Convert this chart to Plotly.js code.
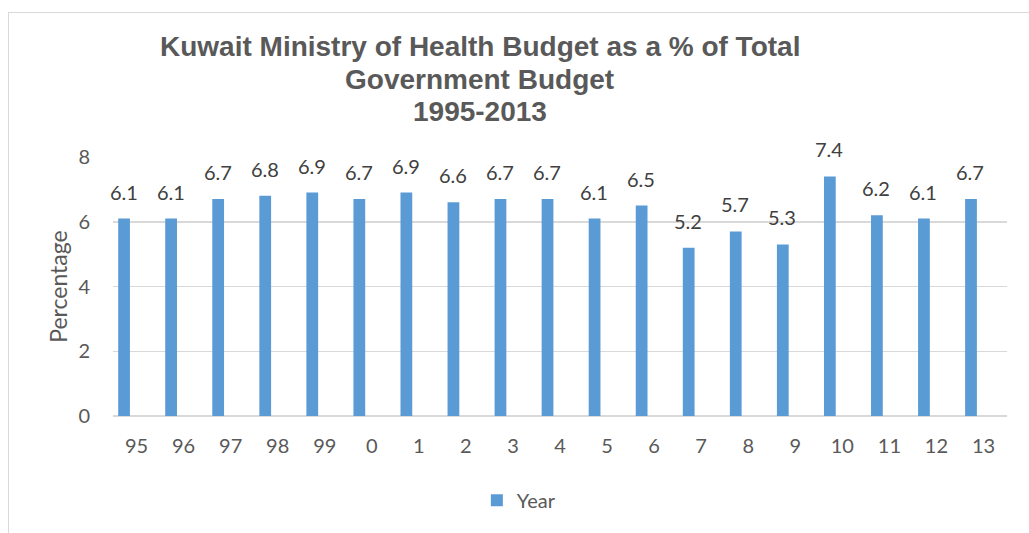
<!DOCTYPE html>
<html>
<head>
<meta charset="utf-8">
<script src="https://cdn.plot.ly/plotly-3.0.1.min.js"></script>
<style>
  html, body { margin: 0; padding: 0; background: #fff; }
  #wrap { position: relative; width: 1029px; height: 533px; overflow: hidden; }
  #frame { position: absolute; left: 8px; top: 12px; width: 1100px; height: 600px; border-left: 1.5px solid #D9D9D9; border-top: 1.5px solid #D9D9D9; pointer-events: none; }
  #chart { position: absolute; left: 0; top: 0; width: 1029px; height: 533px; }
</style>
</head>
<body>
<div id="wrap">
  <div id="chart"></div>
  <div id="frame"></div>
</div>
<script>
const categories = ['95','96','97','98','99','0','1','2','3','4','5','6','7','8','9','10','11','12','13'];
const values = [6.1, 6.1, 6.7, 6.8, 6.9, 6.7, 6.9, 6.6, 6.7, 6.7, 6.1, 6.5, 5.2, 5.7, 5.3, 7.4, 6.2, 6.1, 6.7];
const seriesName = 'Year';
const titleLines = ['Kuwait Ministry of Health Budget as a % of Total', 'Government Budget', '1995-2013'];
const yTitle = 'Percentage';

const positions = categories.map((c, i) => i);
const labelFont = { family: 'Lato, "Open Sans", sans-serif', size: 20, color: '#595959' };

const trace = {
  type: 'bar',
  x: positions,
  y: values,
  name: seriesName,
  width: 0.25,
  offset: -0.39,
  marker: { color: '#5B9BD5', line: { width: 0 } }
};

const annotations = positions.map((p, i) => ({
  x: p, y: values[i], xref: 'x', yref: 'y',
  text: values[i].toFixed(1),
  showarrow: false,
  xanchor: 'center', yanchor: 'bottom',
  xshift: -13, yshift: 13,
  font: { family: 'Lato, "Open Sans", sans-serif', size: 20, color: '#404040' }
}));

// Title lines (page y centres ~47, 80, 112)
const titleY = [47, 80, 112];
titleLines.forEach((t, i) => {
  annotations.push({
    x: (479.5 - 113) / 894, xref: 'paper', xanchor: 'center',
    y: (416 - titleY[i]) / 259, yref: 'paper', yanchor: 'middle',
    text: '<b>' + t + '</b>', showarrow: false,
    font: { family: '"Liberation Sans", Arial, sans-serif', size: 28, color: '#595959' }
  });
});

const layout = {
  width: 1029, height: 533,
  margin: { l: 113, r: 22, t: 157, b: 117 },
  paper_bgcolor: 'rgba(0,0,0,0)',
  plot_bgcolor: 'rgba(0,0,0,0)',
  showlegend: true,
  legend: {
    orientation: 'h', x: 0.407, xanchor: 'left', y: -0.325, yanchor: 'middle',
    font: labelFont,
    itemwidth: 30
  },
  xaxis: {
    range: [-0.5, categories.length - 0.5],
    tickmode: 'array', tickvals: positions, ticktext: categories,
    showgrid: false, zeroline: false, showline: false,
    ticks: '', ticklabelstandoff: 16,
    tickfont: labelFont,
    fixedrange: true
  },
  yaxis: {
    range: [0, 8], dtick: 2, tick0: 0,
    showgrid: true, gridcolor: '#D9D9D9', gridwidth: 1.5,
    zeroline: true, zerolinecolor: '#D9D9D9', zerolinewidth: 1.5,
    showline: false, ticks: '', ticklabelstandoff: 22,
    tickfont: labelFont,
    title: { text: yTitle, standoff: 4, font: { family: 'Lato, "Open Sans", sans-serif', size: 23, color: '#595959' } },
    fixedrange: true
  },
  annotations: annotations
};

Plotly.newPlot('chart', [trace], layout, { displayModeBar: false, staticPlot: true });
</script>
</body>
</html>
